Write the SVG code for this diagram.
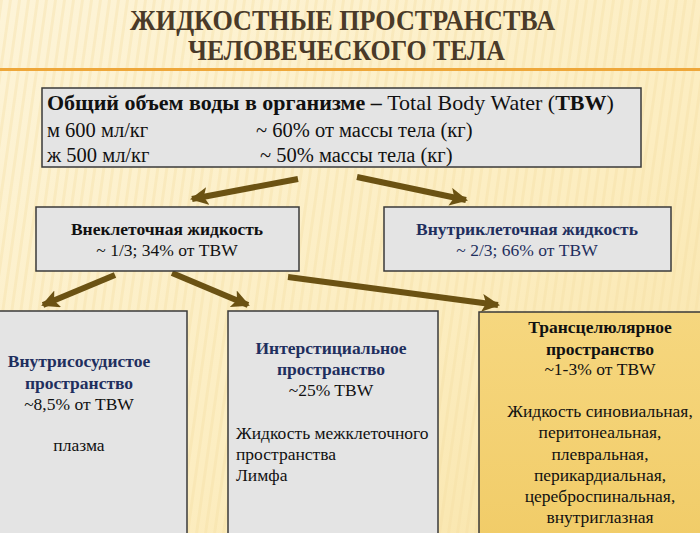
<svg xmlns="http://www.w3.org/2000/svg" width="700" height="533" viewBox="0 0 700 533">
<defs>
<linearGradient id="bg" x1="0" y1="0" x2="1" y2="1">
<stop offset="0" stop-color="#fdf4d8"/>
<stop offset="0.6" stop-color="#fcedc0"/>
<stop offset="1" stop-color="#f8e3a6"/>
</linearGradient>
<pattern id="stripes" width="9" height="533" patternUnits="userSpaceOnUse" patternTransform="skewX(-8)">
<rect x="0" y="0" width="3" height="533" fill="#f2dca0" opacity="0.35"/>
</pattern>
<linearGradient id="gold" x1="0" y1="0" x2="0" y2="1">
<stop offset="0" stop-color="#f6d77f"/>
<stop offset="1" stop-color="#f1cc68"/>
</linearGradient>
<marker id="ah" markerUnits="userSpaceOnUse" markerWidth="20" markerHeight="20" refX="16" refY="9" orient="auto">
<path d="M0,0 L18,9 L0,18 L4,9 Z" fill="#6b5213"/>
</marker>
<style>
.t{font-family:"Liberation Serif","Times New Roman",serif;fill:#111}
.b{font-weight:bold}
.nv{fill:#1f2f5e}
.box{fill:#e4e4e4;stroke:#3a3a3a;stroke-width:1.5}
.ar{stroke:#6b5213;stroke-width:6;fill:none;marker-end:url(#ah)}
.title{font-family:"Liberation Serif","Times New Roman",serif;font-weight:bold;font-size:29px;fill:#4a3a28}
.m{font-size:20.5px}
.s{font-size:17.5px}
</style>
</defs>
<rect width="700" height="533" fill="url(#bg)"/>
<rect width="700" height="533" fill="url(#stripes)"/>
<g id="title">
<text class="title" x="130" y="30" textLength="425" lengthAdjust="spacingAndGlyphs">ЖИДКОСТНЫЕ ПРОСТРАНСТВА</text>
<text class="title" x="188" y="60" textLength="317" lengthAdjust="spacingAndGlyphs">ЧЕЛОВЕЧЕСКОГО ТЕЛА</text>
<line x1="0" y1="69.5" x2="700" y2="69.5" stroke="#eea73a" stroke-width="3"/>
</g>
<g id="connectors">
<line class="ar" x1="298" y1="179" x2="192" y2="199"/>
<line class="ar" x1="357" y1="177" x2="466" y2="200"/>
<line class="ar" x1="115" y1="275" x2="43" y2="305"/>
<line class="ar" x1="172" y1="273" x2="248" y2="305"/>
<line class="ar" x1="288" y1="277" x2="498" y2="305"/>
</g>
<g id="tbw">
<rect class="box" x="42" y="88" width="599" height="79"/>
<text class="t" x="47" y="110" font-size="22"><tspan class="b">Общий объем воды в организме –</tspan> Total Body Water (<tspan class="b">TBW</tspan>)</text>
<text class="t m" x="47" y="136.5">м 600 мл/кг</text>
<text class="t m" x="256" y="136.5">~ 60% от массы тела (кг)</text>
<text class="t m" x="47" y="161.5">ж 500 мл/кг</text>
<text class="t m" x="260" y="161.5">~ 50% массы тела (кг)</text>
</g>
<g id="ecf">
<rect class="box" x="36" y="207" width="263" height="64"/>
<text class="t b s" x="167" y="235" text-anchor="middle">Внеклеточная жидкость</text>
<text class="t s" x="167" y="256" text-anchor="middle">~ 1/3; 34% от TBW</text>
</g>
<g id="icf">
<rect class="box" x="384" y="207" width="287" height="64"/>
<text class="t b nv s" x="527" y="235" text-anchor="middle">Внутриклеточная жидкость</text>
<text class="t nv s" x="527" y="256" text-anchor="middle">~ 2/3; 66% от TBW</text>
</g>
<g id="intravascular">
<rect class="box" x="-5" y="311" width="192" height="230"/>
<text class="t b nv s" x="79" y="367" text-anchor="middle">Внутрисосудистое</text>
<text class="t b nv s" x="79" y="389" text-anchor="middle">пространство</text>
<text class="t s" x="79" y="410" text-anchor="middle">~8,5% от TBW</text>
<text class="t s" x="79" y="451" text-anchor="middle">плазма</text>
</g>
<g id="interstitial">
<rect class="box" x="228" y="311" width="210" height="230"/>
<text class="t b nv s" x="331" y="354" text-anchor="middle">Интерстициальное</text>
<text class="t b nv s" x="331" y="375" text-anchor="middle">пространство</text>
<text class="t s" x="331" y="396" text-anchor="middle">~25% TBW</text>
<text class="t s" x="236" y="439">Жидкость межклеточного</text>
<text class="t s" x="236" y="460">пространства</text>
<text class="t s" x="236" y="481">Лимфа</text>
</g>
<g id="transcellular">
<rect x="479" y="312" width="230" height="230" fill="url(#gold)" stroke="#3a3a3a" stroke-width="1.5"/>
<text class="t b s" x="600" y="333" text-anchor="middle">Трансцелюлярное</text>
<text class="t b s" x="600" y="355" text-anchor="middle">пространство</text>
<text class="t s" x="600" y="375" text-anchor="middle">~1-3% от TBW</text>
<text class="t s" x="600" y="417" text-anchor="middle">Жидкость синовиальная,</text>
<text class="t s" x="600" y="438" text-anchor="middle">перитонеальная,</text>
<text class="t s" x="600" y="460" text-anchor="middle">плевральная,</text>
<text class="t s" x="600" y="481" text-anchor="middle">перикардиальная,</text>
<text class="t s" x="600" y="502" text-anchor="middle">цереброспинальная,</text>
<text class="t s" x="600" y="523" text-anchor="middle">внутриглазная</text>
</g>
</svg>
